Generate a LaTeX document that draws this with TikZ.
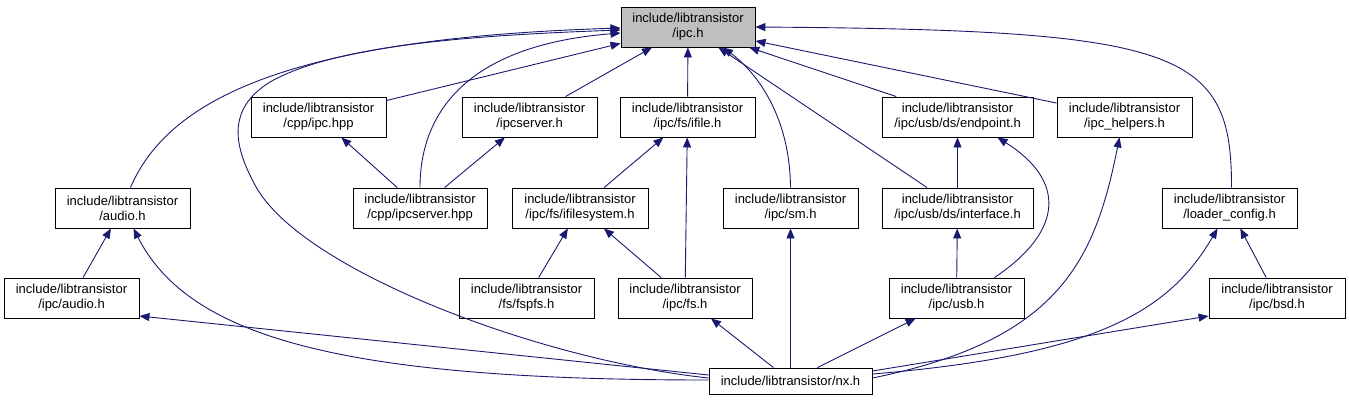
\documentclass[tikz,border=0pt]{standalone}
\usepackage{fontspec}
\setmainfont{Liberation Sans}
\usetikzlibrary{arrows.meta}
\definecolor{edgeblue}{RGB}{25,25,112}
\definecolor{focusgray}{RGB}{191,191,191}

\begin{document}
\begin{tikzpicture}[x=1pt,y=-1pt,
  file/.style={draw=black, line width=0.9pt, fill=white, minimum width=135pt, minimum height=40pt,
    inner sep=0pt, align=center, font=\fontsize{13}{15}\selectfont},
  dep/.style={draw=edgeblue, line width=0.9pt, -{Triangle[length=10pt,width=8pt]}}]
  \useasboundingbox (0,0) rectangle (1349,400);
  \node[file, fill=focusgray, minimum width=134pt] (ipc) at (688,27) {include/libtransistor\\/ipc.h};
  \node[file] (cppipc) at (318.5,117) {include/libtransistor\\/cpp/ipc.hpp};
  \node[file] (ipcserver) at (529.5,117) {include/libtransistor\\/ipcserver.h};
  \node[file] (ifile) at (687.5,117) {include/libtransistor\\/ipc/fs/ifile.h};
  \node[file, minimum width=151pt] (endpoint) at (957.5,117) {include/libtransistor\\/ipc/usb/ds/endpoint.h};
  \node[file] (helpers) at (1124.5,117) {include/libtransistor\\/ipc\_helpers.h};
  \node[file] (audio) at (122.5,208) {include/libtransistor\\/audio.h};
  \node[file, minimum width=134pt] (ipcserverhpp) at (420,208) {include/libtransistor\\/cpp/ipcserver.hpp};
  \node[file, minimum width=136pt] (ifilesystem) at (580,208) {include/libtransistor\\/ipc/fs/ifilesystem.h};
  \node[file] (sm) at (790.5,208) {include/libtransistor\\/ipc/sm.h};
  \node[file, minimum width=151pt] (interface) at (957.5,208) {include/libtransistor\\/ipc/usb/ds/interface.h};
  \node[file] (loader) at (1229.5,208) {include/libtransistor\\/loader\_config.h};
  \node[file] (ipcaudio) at (71.5,298) {include/libtransistor\\/ipc/audio.h};
  \node[file] (fspfs) at (526.5,298) {include/libtransistor\\/fs/fspfs.h};
  \node[file, minimum width=134pt] (fs) at (685,298) {include/libtransistor\\/ipc/fs.h};
  \node[file] (usb) at (956.5,298) {include/libtransistor\\/ipc/usb.h};
  \node[file, minimum width=136pt] (bsd) at (1277,298) {include/libtransistor\\/ipc/bsd.h};
  \node[file, minimum width=163pt, minimum height=26pt] (nx) at (790.5,381) {include/libtransistor/nx.h};
  \draw[dep] ([xshift=8pt]audio.north) .. controls (170,95) and (300,38) .. ([yshift=-1pt]ipc.west);
  \draw[dep] ([yshift=3pt]nx.west) .. controls (540,360) and (300,270) .. (255,185)
    .. controls (235,148) and (225,110) .. (270,82) .. controls (330,48) and (450,36) .. ([yshift=-3pt]ipc.west);
  \draw[dep] (cppipc) -- (ipc);
  \draw[dep] (ipcserverhpp.north) .. controls (420,110) and (470,45) .. ([yshift=-6pt]ipc.west);
  \draw[dep] (ipcserver) -- (ipc);
  \draw[dep] (ifile) -- (ipc);
  \draw[dep] (sm.north) .. controls (790,120) and (760,75) .. ([xshift=35pt]ipc.south);
  \draw[dep] (interface) -- (ipc);
  \draw[dep] (endpoint) -- (ipc);
  \draw[dep] (helpers) -- (ipc);
  \draw[dep] ([xshift=2pt]loader.north) .. controls (1232,50) and (1180,30) .. (ipc.east);
  \draw[dep] (ipcserverhpp) -- (cppipc);
  \draw[dep] (ipcserverhpp) -- (ipcserver);
  \draw[dep] (ifilesystem) -- (ifile);
  \draw[dep] (fs) -- (ifile);
  \draw[dep] (fspfs) -- (ifilesystem);
  \draw[dep] (fs) -- (ifilesystem);
  \draw[dep] (interface) -- (endpoint);
  \draw[dep] ([xshift=38pt]usb.north) .. controls (1065,230) and (1065,180) .. ([xshift=40pt]endpoint.south);
  \draw[dep] (usb) -- (interface);
  \draw[dep] ([yshift=3pt]nx.east) .. controls (1060,340) and (1095,260) .. ([xshift=-5pt]helpers.south);
  \draw[dep] ([yshift=7pt]nx.east) .. controls (1100,355) and (1170,310) .. ([xshift=-12pt]loader.south);
  \draw[dep] ([yshift=10pt]nx.east) -- ([yshift=-18pt]bsd.west);
  \draw[dep] (bsd) -- (loader);
  \draw[dep] ([yshift=6pt]nx.west) -- ([yshift=-18pt]ipcaudio.east);
  \draw[dep] ([yshift=1pt]nx.west) .. controls (350,380) and (190,340) .. ([xshift=11pt]audio.south);
  \draw[dep] (ipcaudio) -- (audio);
  \draw[dep] (nx) -- (fs);
  \draw[dep] (nx) -- (sm);
  \draw[dep] (nx) -- (usb);
\end{tikzpicture}
\end{document}
